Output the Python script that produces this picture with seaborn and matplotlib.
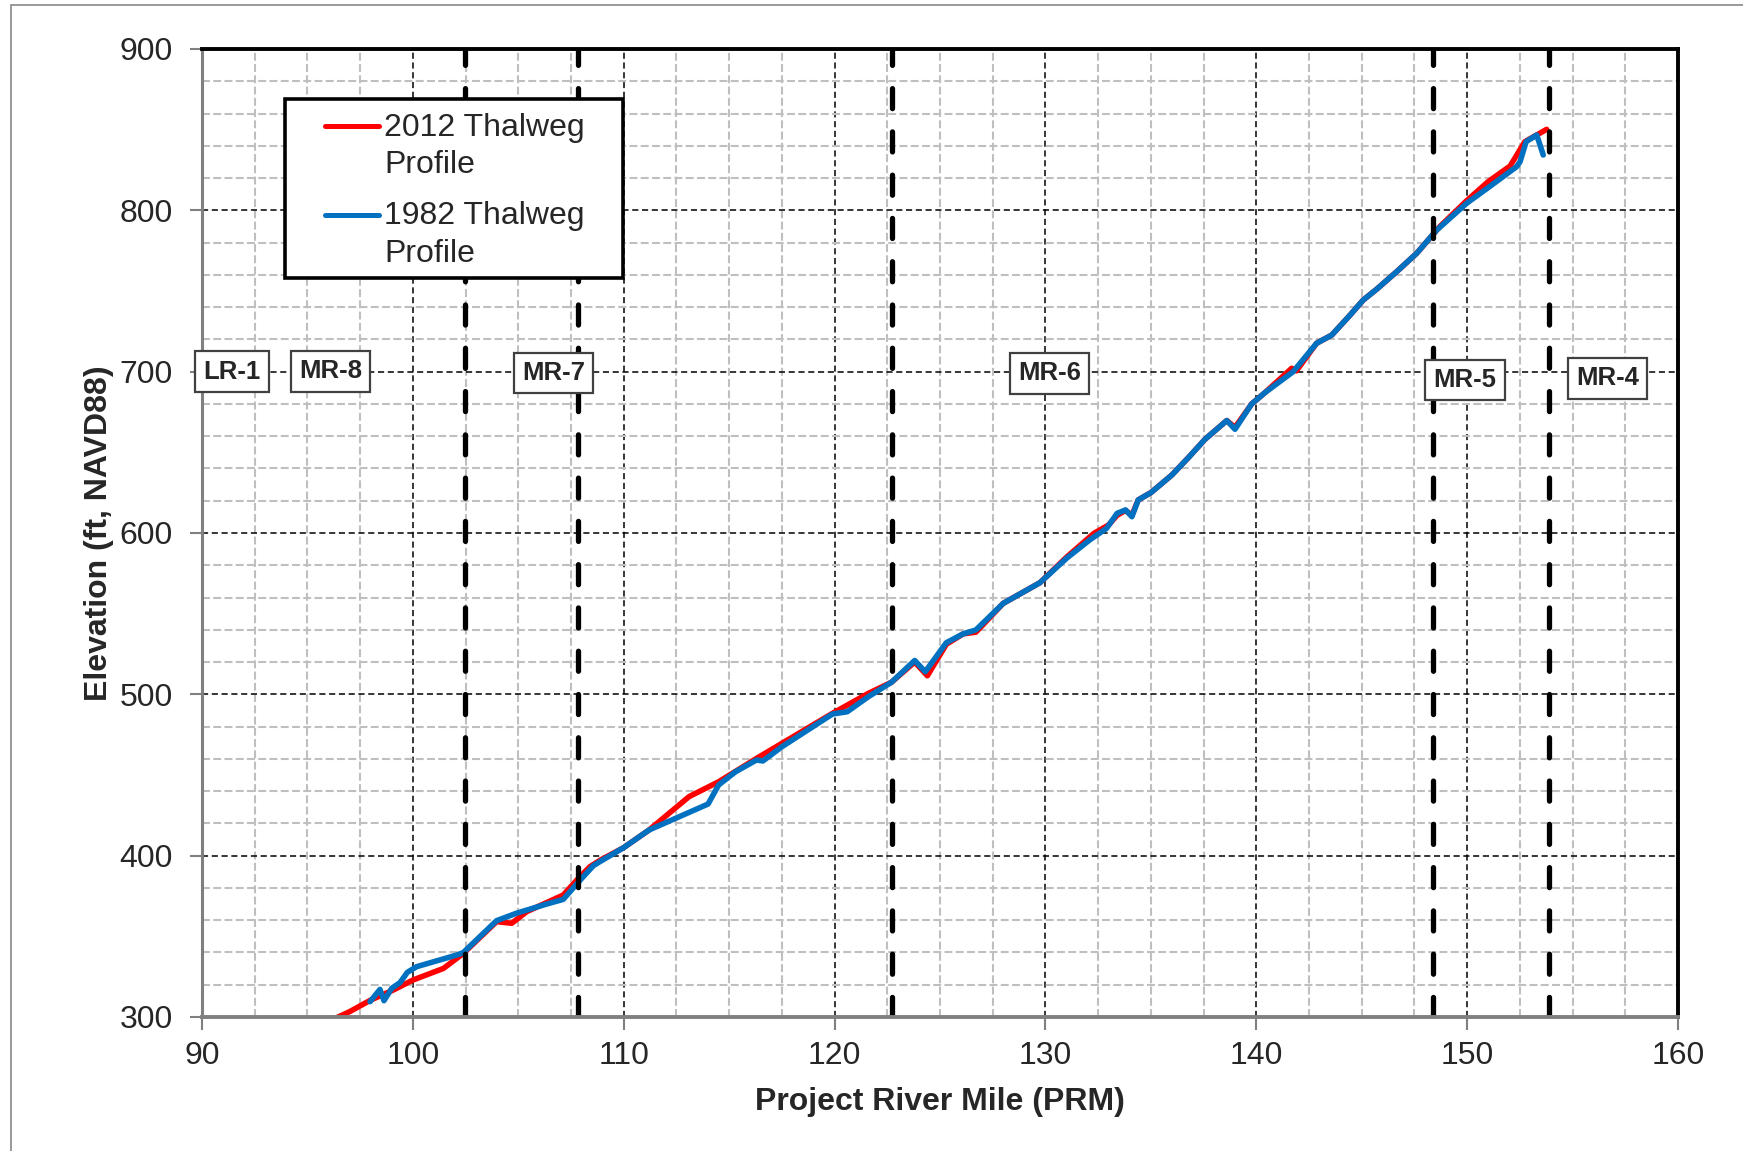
import matplotlib
matplotlib.use("Agg")
import matplotlib.pyplot as plt
import seaborn as sns
import pandas as pd
from matplotlib.ticker import MultipleLocator
from matplotlib.patches import Rectangle

# 2012 thalweg profile (river mile, elevation ft)
mile_2012 = [95.8, 97.0, 98.0, 99.07, 100.0, 101.45, 102.4, 103.97, 104.69, 105.4,
             107.13, 107.85, 108.4, 108.9, 110.0, 111.2, 113.1, 114.5, 116.3, 117.5,
             119.9, 121.6, 122.7, 123.8, 124.4, 125.3, 126.1, 126.7, 128.0, 129.74,
             131.0, 132.3, 133.0, 133.4, 133.8, 134.1, 134.4, 135.0, 136.0, 136.8,
             137.57, 138.6, 138.99, 139.78, 140.41, 141.68, 141.9, 142.86, 143.58, 144.45,
             145.07, 145.7, 146.66, 147.61, 148.7, 149.98, 151.0, 152.04, 152.74, 153.3,
             153.77]
elev_2012 = [296, 303.3, 310.5, 316.7, 322.9, 330.1, 339.5, 359.1, 358.1, 365.3,
             375.6, 385.9, 393.2, 397.3, 405, 415.9, 436.6, 445.8, 460.3, 469.6,
             488.2, 500.6, 507.5, 520, 511.5, 531, 537.5, 538.5, 556.4, 569.2,
             585, 599.8, 605, 611, 614, 611, 620.5, 625, 636, 647,
             658.1, 669.7, 665.5, 680.0, 687.0, 702.1, 700.5, 717.6, 722.7, 735.1,
             744.4, 751.0, 762.0, 773.4, 789.9, 806, 817.8, 827.5, 842.6, 846.7,
             850.2]

# 1982 thalweg profile
mile_1982 = [97.97, 98.44, 98.63, 99.0, 99.39, 99.74, 100.18, 102.08, 102.39, 103.97,
             104.91, 106.34, 107.13, 107.93, 108.56, 108.87, 110.0, 111.2, 114.0, 114.5,
             115.3, 116.3, 116.6, 117.5, 119.9, 120.6, 121.6, 122.7, 123.8, 124.3,
             125.3, 126.1, 126.7, 128.0, 129.74, 131.0, 132.1, 132.9, 133.4, 133.8,
             134.1, 134.4, 135.0, 136.0, 136.8, 137.57, 138.6, 138.99, 139.78, 140.41,
             141.75, 142.86, 143.58, 144.45, 145.07, 145.7, 146.66, 147.61, 148.56, 149.98,
             151.0, 152.35, 152.51, 152.8, 153.3, 153.61]
elev_1982 = [309.5, 317.1, 310.1, 317.8, 321.3, 327.7, 331.2, 338.4, 339.9, 359.7,
             364.3, 370.0, 372.9, 384.8, 393.8, 396.3, 405, 415.9, 432.0, 443.8,
             452.0, 459.3, 458.7, 467.5, 487.8, 489.2, 498.5, 507.5, 521, 514,
             532, 537.5, 539.9, 556.4, 569.2, 584.3, 595.7, 602.9, 612.2, 614.3,
             610.1, 620.5, 625, 636, 647, 658.1, 669.7, 664.3, 680.0, 687.0,
             700.0, 717.6, 722.7, 735.1, 744.4, 751.0, 762.0, 773.4, 787.8, 804.4,
             814.1, 827.1, 830.2, 842.6, 846.7, 834.3]

# reach boundaries and reach labels
boundaries = [102.45, 107.83, 122.7, 148.37, 153.87]
reach_names = ["LR-1", "MR-8", "MR-7", "MR-6", "MR-5", "MR-4"]
reach_x = [91.41, 96.1, 106.68, 130.19, 149.9, 156.66]
reach_y = [700.0, 700.2, 699.2, 698.9, 694.9, 695.8]

df12 = pd.DataFrame({"mile": mile_2012, "elev": elev_2012})
df82 = pd.DataFrame({"mile": mile_1982, "elev": elev_1982})

sns.set_style("white")
plt.rcParams["font.family"] = ["Liberation Sans", "DejaVu Sans"]

W, H = 1743, 1151
fig = plt.figure(figsize=(W / 100, H / 100), dpi=100)
ax = fig.add_axes([202 / W, 1 - 1017 / H, 1476 / W, 968 / H])

# grid
ax.set_axisbelow(True)
ax.xaxis.set_major_locator(MultipleLocator(10))
ax.xaxis.set_minor_locator(MultipleLocator(2.5))
ax.yaxis.set_major_locator(MultipleLocator(100))
ax.yaxis.set_minor_locator(MultipleLocator(20))
ax.grid(which="minor", color="#BFBFBF", linestyle=(0, (3.8, 1.6)), linewidth=1.5)
ax.grid(which="major", color="black", linestyle=(0, (4, 2.4)), linewidth=1.1)

sns.lineplot(data=df12, x="mile", y="elev", color="#FF0000", linewidth=4.0,
             sort=False, estimator=None, ax=ax, zorder=3)
sns.lineplot(data=df82, x="mile", y="elev", color="#0070C0", linewidth=4.0,
             sort=False, estimator=None, ax=ax, zorder=4)

for b in boundaries:
    ax.axvline(b, color="black", linewidth=3.8, linestyle=(0, (3.8, 4.4)),
               dash_capstyle="round", zorder=5)

for name, x, y in zip(reach_names, reach_x, reach_y):
    ax.text(x, y, name, ha="center", va="center", fontsize=18.5, fontweight="bold",
            zorder=7, clip_on=False,
            bbox=dict(boxstyle="square,pad=0.32", facecolor="white",
                      edgecolor="#404040", linewidth=1.6))

ax.set_xlim(90, 160)
ax.set_ylim(300, 900)

ax.set_xlabel("Project River Mile (PRM)", fontsize=23, fontweight="bold", labelpad=12)
ax.set_ylabel("Elevation (ft, NAVD88)", fontsize=23, fontweight="bold", labelpad=4)

ax.tick_params(axis="both", which="major", labelsize=23, color="#808080",
               length=9, width=1.5, direction="out")
ax.tick_params(axis="x", which="major", pad=8, bottom=True)
ax.tick_params(axis="y", which="major", pad=12, left=True)
ax.tick_params(which="minor", length=0)

for side in ["top", "right"]:
    ax.spines[side].set_color("black")
    ax.spines[side].set_linewidth(2.8)
ax.spines["left"].set_color("#808080")
ax.spines["left"].set_linewidth(2.2)
ax.spines["bottom"].set_color("#808080")
ax.spines["bottom"].set_linewidth(2.8)
for s in ax.spines.values():
    s.set_zorder(6)

# legend drawn by hand so the handle sits on the first text line
ax.add_patch(Rectangle((0.0562, 0.7639), 0.229, 0.1844, transform=ax.transAxes,
                       facecolor="white", edgecolor="black", linewidth=2.6,
                       zorder=8))
for ycen, ybase, col, lab in [(0.9205, 0.8716, "#FF0000", "2012 Thalweg\nProfile"),
                              (0.8285, 0.7803, "#0070C0", "1982 Thalweg\nProfile")]:
    ax.plot([0.0833, 0.1199], [ycen, ycen], transform=ax.transAxes, color=col,
            linewidth=3.6, solid_capstyle="round", zorder=9)
    ax.text(0.1233, ybase, lab, transform=ax.transAxes, fontsize=23,
            ha="left", va="baseline", zorder=9, linespacing=1.32)

# outer frame of the exported chart
fig.add_artist(Rectangle((11 / W, -0.1), 1.2, 1.1 - 5 / H, transform=fig.transFigure,
                         fill=False, edgecolor="#888888", linewidth=1.2))

fig.savefig("out.png", dpi=100, facecolor="white")
